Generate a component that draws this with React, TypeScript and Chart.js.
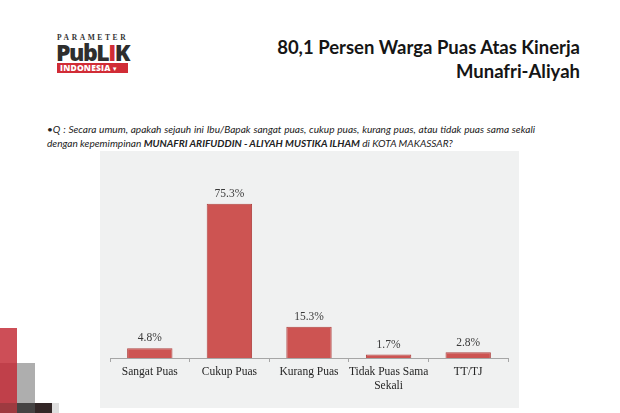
import React, { useEffect, useRef } from "react";
import { Chart, registerables } from "chart.js";

Chart.register(...registerables);

const categories: (string | string[])[] = ["Sangat Puas", "Cukup Puas", "Kurang Puas", ["Tidak Puas Sama", "Sekali"], "TT/TJ"];
const values: number[] = [4.8, 75.3, 15.3, 1.7, 2.8];
const valueLabels: string[] = ["4.8%", "75.3%", "15.3%", "1.7%", "2.8%"];
const yMax = 80;

const title1 = "80,1 Persen Warga Puas Atas Kinerja";
const title2 = "Munafri-Aliyah";

const valueLabelPlugin = {
  id: "valueLabels",
  afterDatasetsDraw(chart: any) {
    const { ctx } = chart;
    const meta = chart.getDatasetMeta(0);
    ctx.save();
    ctx.font = "11.5px 'Liberation Serif', serif";
    ctx.fillStyle = "#3a3a3a";
    ctx.textAlign = "center";
    ctx.textBaseline = "bottom";
    meta.data.forEach((bar: any, i: number) => {
      ctx.fillText(valueLabels[i], bar.x, bar.y - 4);
    });
    ctx.restore();
  },
};

function BarChart() {
  const ref = useRef<HTMLCanvasElement | null>(null);
  useEffect(() => {
    if (!ref.current) return;
    const chart = new Chart(ref.current, {
      type: "bar",
      data: {
        labels: categories,
        datasets: [
          {
            data: values,
            backgroundColor: "#cd5452",
            borderColor: "#b04442",
            borderWidth: 1,
            barPercentage: 0.57,
            categoryPercentage: 1,
          },
        ],
      },
      options: {
        animation: false,
        responsive: false,
        maintainAspectRatio: false,
        layout: { padding: { left: 10, right: 11, top: 43, bottom: 0 } },
        plugins: { legend: { display: false }, tooltip: { enabled: false } },
        scales: {
          y: { display: false, min: 0, max: yMax },
          x: {
            offset: true,
            grid: {
              offset: true,
              drawOnChartArea: false,
              drawTicks: true,
              tickLength: 4,
              color: "#a6a6a6",
            },
            border: { display: true, color: "#a6a6a6", width: 1 },
            ticks: {
              color: "#262626",
              padding: 3,
              maxRotation: 0,
              autoSkip: false,
              font: { family: "'Liberation Serif', serif", size: 11.5 },
            },
            afterFit: (scale: any) => {
              scale.height = 50;
            },
          },
        },
      },
      plugins: [valueLabelPlugin],
    });
    return () => chart.destroy();
  }, []);
  return <canvas ref={ref} width={419} height={257} style={{ position: "absolute", left: 100, top: 151, width: 419, height: 257, background: "#f0f1f1" }} />;
}

export default function App() {
  return (
    <div style={{ position: "fixed", left: 0, top: 0, width: 620, height: 413, background: "#ffffff", overflow: "hidden" }}>
      {/* Logo */}
      <div style={{ position: "absolute", left: 57, top: 34, width: 76, fontFamily: "'Liberation Serif', serif", fontWeight: 700, fontSize: 7.5, letterSpacing: 2.6, color: "#333", lineHeight: "8px" }}>PARAMETER</div>
      <div style={{ position: "absolute", left: 56, top: 40, fontFamily: "'Open Sans', sans-serif", fontWeight: 800, fontSize: 23, letterSpacing: -1.5, color: "#2e2e2e", lineHeight: "24px" }}>
        PubL<span style={{ color: "#d12c36" }}>I</span>K
      </div>
      <div style={{ position: "absolute", left: 57, top: 63, width: 71, height: 10, background: "#d12c36", color: "#fff", fontFamily: "'Open Sans', sans-serif", fontWeight: 800, fontSize: 8.5, lineHeight: "10px", paddingLeft: 3, letterSpacing: 0.2, boxSizing: "border-box" }}>
        INDONESIA<span style={{ fontSize: 6, marginLeft: 1 }}>▼</span>
      </div>
      {/* Title */}
      <div style={{ position: "absolute", right: 40, top: 35, textAlign: "right", fontFamily: "Lato, sans-serif", fontWeight: 700, fontSize: 18.5, lineHeight: "24px", color: "#151515", whiteSpace: "nowrap" }}>
        <div>{title1}</div>
        <div>{title2}</div>
      </div>
      {/* Question */}
      <div style={{ position: "absolute", left: 47, top: 122, width: 488, fontFamily: "Lato, sans-serif", fontStyle: "italic", fontSize: 10.1, lineHeight: "14px", color: "#222", textAlign: "justify", textAlignLast: "left" }}>
        •Q : Secara umum, apakah sejauh ini Ibu/Bapak sangat puas, cukup puas, kurang puas, atau tidak puas sama sekali dengan kepemimpinan <b>MUNAFRI ARIFUDDIN - ALIYAH MUSTIKA ILHAM</b> di KOTA MAKASSAR?
      </div>
      <BarChart />
      {/* Decoration bottom-left */}
      <div style={{ position: "absolute", left: 0, top: 328, width: 17, height: 35, background: "#cd4e57" }} />
      <div style={{ position: "absolute", left: 0, top: 363, width: 17, height: 40, background: "#c0404a" }} />
      <div style={{ position: "absolute", left: 0, top: 403, width: 17, height: 10, background: "#9e3a40" }} />
      <div style={{ position: "absolute", left: 17, top: 363, width: 18, height: 40, background: "#aeaeae" }} />
      <div style={{ position: "absolute", left: 17, top: 403, width: 18, height: 10, background: "#454343" }} />
      <div style={{ position: "absolute", left: 35, top: 403, width: 17, height: 10, background: "#332727" }} />
      <div style={{ position: "absolute", left: 52, top: 403, width: 7, height: 10, background: "#dedede" }} />
    </div>
  );
}
